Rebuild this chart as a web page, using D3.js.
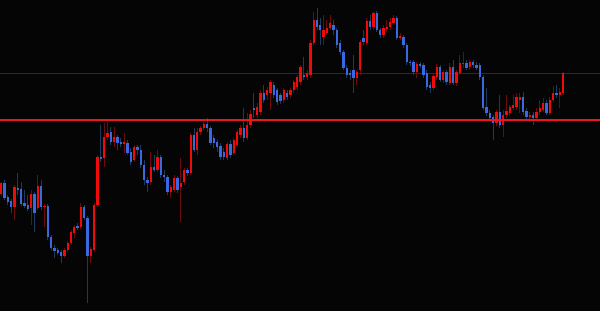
<!DOCTYPE html>
<html lang="en">
	<head>
		<meta charset="utf-8">
		<title>Candlestick chart</title>
		<script src="https://d3js.org/d3.v7.min.js"></script>
		<style type="text/css">
			body {
				margin: 0;
				background-color: #050505;
			}
			svg {
				display: block;
				background-color: #050505;
			}
		</style>
	</head>
	<body>
		<script type="text/javascript">

			//Candle data (one value per bar)
			var opens = [
				117,128,114,110,104,123,122,108,106,103, 117,103,125,104,105,74,63,61,59,55,
				61,68,78,85,84,104,93,55,61,106, 154,153,174,179,169,174,169,167,168,159,
				151,164,161,146,131,129,144,141,154,136, 134,119,121,133,124,129,141,138,176,161,
				179,183,187,183,173,169,165,159,153,167, 158,166,176,183,173,186,203,196,199,218,
				216,218,226,221,216,211,218,216,221,224, 229,236,234,236,268,291,286,274,278,283,
				286,281,268,259,243,238,241,233,241,273, 268,290,284,298,281,276,282,284,288,293,
				273,274,266,249,249,239,247,246,238,226, 223,234,244,231,239,228,244,228,238,247,
				248,244,249,246,246,234,204,198,194,188, 199,186,196,198,203,204,211,214,200,194,
				196,193,199,201,208,198,211,218,216,218
			];
			var highs = [
				129,131,116,112,126,138,129,121,116,121, 119,136,131,107,107,76,66,63,61,63,
				70,81,86,88,108,106,95,64,108,156, 186,188,189,184,184,176,173,178,171,163,
				166,166,166,151,134,159,156,161,156,141, 136,126,136,135,153,143,143,178,183,183,
				185,189,193,185,176,171,168,163,169,171, 173,181,186,203,198,201,218,208,221,226,
				224,231,229,223,218,223,221,223,231,236, 246,254,241,271,299,303,293,296,291,296,
				291,283,271,261,246,241,256,241,271,281, 293,296,299,300,283,286,291,293,296,295,
				278,276,268,251,251,249,249,248,241,229, 237,247,246,241,241,248,251,241,256,259,
				251,251,251,249,248,236,223,201,196,201, 216,201,216,206,216,218,218,219,203,199,
				199,203,211,213,211,214,225,226,223,239
			];
			var lows = [
				115,111,106,98,91,116,105,103,100,86, 79,101,101,84,71,61,53,56,48,53,
				59,66,73,81,82,91,8,48,59,104, 149,144,171,166,164,161,164,158,156,146,
				149,156,143,126,119,126,139,139,133,129, 116,113,119,118,89,126,135,136,159,156,
				176,181,179,166,163,159,151,151,151,153, 156,164,173,169,171,183,193,193,196,208,
				211,201,213,206,207,208,211,213,218,221, 226,231,231,233,266,281,266,266,276,281,
				276,263,256,241,233,231,218,226,236,266, 266,281,281,279,273,273,279,281,286,271,
				271,263,246,245,236,233,243,233,221,218, 221,231,229,228,226,226,226,225,236,243,
				241,241,243,241,231,201,195,190,171,185, 183,174,193,195,201,201,198,196,191,189,
				186,191,196,199,196,196,209,213,203,216
			];
			var closes = [
				128,113,109,104,124,121,107,105,102,117, 98,125,104,105,74,63,60,58,55,61,
				68,79,84,83,104,93,55,62,106,154, 152,174,178,169,174,168,167,169,158,149,
				164,161,146,131,128,144,141,154,136,134, 119,124,133,121,128,141,138,176,161,179,
				183,187,183,168,168,164,154,154,167,156, 171,179,183,173,186,197,201,204,218,211,
				221,229,216,209,210,221,214,221,229,234, 244,234,238,268,291,284,281,281,283,288,
				281,266,259,243,236,236,233,239,269,269, 290,284,298,281,276,283,284,289,293,273,
				275,266,249,248,239,247,245,236,224,223, 235,244,231,239,229,244,228,239,248,248,
				243,249,246,243,234,203,198,193,188,199, 186,196,200,204,206,214,214,199,194,196,
				193,199,203,208,198,211,218,216,219,238
			];

			//Horizontal price levels
			var redLevel = 191;
			var greyLevel = 238;

			//Width and height
			var w = 600;
			var h = 311;

			var upColor = "#f00a0a";
			var downColor = "#3a68e0";
			var upWick = "#6e0a0a";
			var downWick = "#1c3a5e";

			var data = opens.map(function(o, i) {
				return { i: i, o: o, h: highs[i], l: lows[i], c: closes[i] };
			});

			//Scales
			var x = d3.scalePoint()
						.domain(d3.range(data.length))
						.range([1.2, 563]);

			var y = d3.scaleLinear()
						.domain([0, 311])
						.range([h, 0]);

			var bw = x.step() * 0.7;

			//Create SVG element
			var svg = d3.select("body")
						.append("svg")
						.attr("width", w)
						.attr("height", h)
						.attr("shape-rendering", "crispEdges");

			//Grey level line
			svg.append("line")
				.attr("x1", 0)
				.attr("x2", w)
				.attr("y1", Math.round(y(greyLevel)) + 0.5)
				.attr("y2", Math.round(y(greyLevel)) + 0.5)
				.attr("stroke", "#2a2838")
				.attr("stroke-width", 1);

			var candles = svg.append("g")
							.selectAll("g")
							.data(data)
							.enter()
							.append("g");

			//Wicks
			candles.append("rect")
				.attr("x", function(d) { return Math.floor(x(d.i)); })
				.attr("width", 1)
				.attr("y", function(d) { return y(d.h); })
				.attr("height", function(d) { return y(d.l) - y(d.h); })
				.attr("fill", function(d) { return d.c >= d.o ? upWick : downWick; });

			//Bodies
			candles.append("rect")
				.attr("x", function(d) { return x(d.i) - bw / 2; })
				.attr("width", bw)
				.attr("y", function(d) { return y(Math.max(d.o, d.c)); })
				.attr("height", function(d) { return Math.max(1, Math.abs(y(d.o) - y(d.c))); })
				.attr("fill", function(d) { return d.c >= d.o ? upColor : downColor; });

			//Red level line
			svg.append("line")
				.attr("x1", 0)
				.attr("x2", w)
				.attr("y1", y(redLevel))
				.attr("y2", y(redLevel))
				.attr("stroke", "#ee1520")
				.attr("stroke-width", 2);

		</script>
	</body>
</html>
